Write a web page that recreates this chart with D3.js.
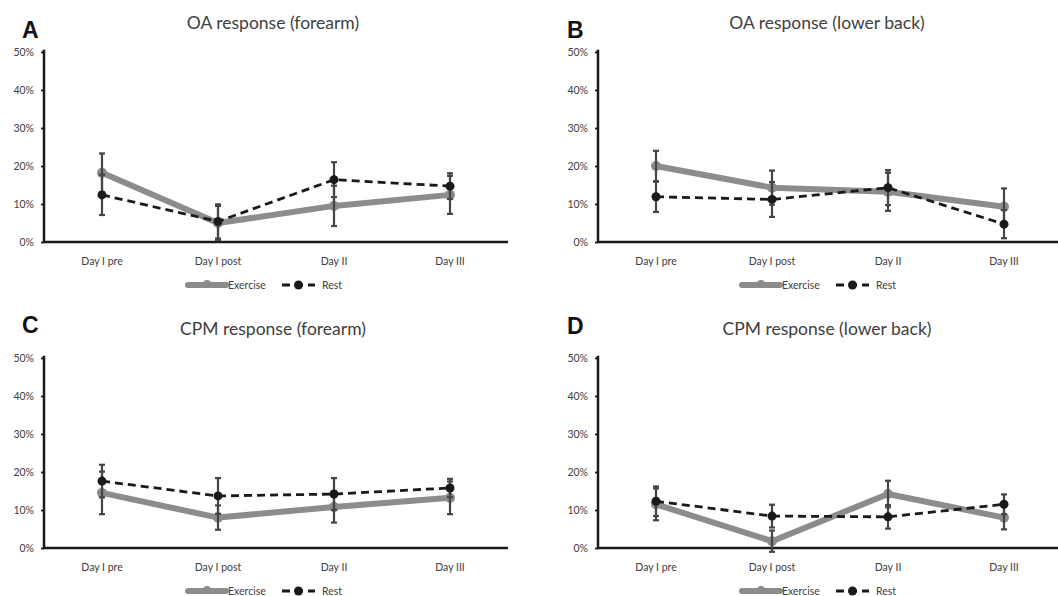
<!DOCTYPE html>
<html>
<head>
<meta charset="utf-8">
<script src="https://cdn.jsdelivr.net/npm/d3@7"></script>
<style>
html,body{margin:0;padding:0;background:#fff;}
svg{display:block;}
</style>
</head>
<body>
<svg id="chart" width="1058" height="596"></svg>
<script>
const categories = ["Day I pre", "Day I post", "Day II", "Day III"];
const yTicks = [0, 10, 20, 30, 40, 50];
const seriesNames = ["Exercise", "Rest"];
const panelLetters = ["A", "B", "C", "D"];
const panelTitles = ["OA response (forearm)", "OA response (lower back)", "CPM response (forearm)", "CPM response (lower back)"];

// values in percent
const exerciseA = [18.2, 5.0, 9.5, 12.4];
const exerciseErrA = [5.1, 4.5, 5.3, 5.0];
const restA = [12.4, 5.4, 16.4, 14.7];
const restErrA = [5.3, 4.5, 4.6, 3.4];

const exerciseB = [20.0, 14.3, 13.2, 9.3];
const exerciseErrB = [4.0, 4.5, 5.0, 4.8];
const restB = [11.9, 11.2, 14.3, 4.7];
const restErrB = [4.0, 4.6, 4.6, 3.7];

const exerciseC = [14.5, 8.0, 10.8, 13.2];
const exerciseErrC = [5.6, 3.2, 4.1, 4.3];
const restC = [17.6, 13.7, 14.2, 15.8];
const restErrC = [4.3, 4.7, 4.2, 2.4];

const exerciseD = [11.5, 1.8, 14.2, 8.0];
const exerciseErrD = [4.2, 2.8, 3.5, 3.1];
const restD = [12.3, 8.4, 8.2, 11.5];
const restErrD = [3.9, 3.0, 3.1, 2.6];

const panels = [
  {ex: exerciseA, exErr: exerciseErrA, rest: restA, restErr: restErrA, ox: 0, oy: 0, ly: 38, lx: 22},
  {ex: exerciseB, exErr: exerciseErrB, rest: restB, restErr: restErrB, ox: 554, oy: 0, ly: 38, lx: 567},
  {ex: exerciseC, exErr: exerciseErrC, rest: restC, restErr: restErrC, ox: 0, oy: 306, ly: 333, lx: 22},
  {ex: exerciseD, exErr: exerciseErrD, rest: restD, restErr: restErrD, ox: 554, oy: 306, ly: 334, lx: 567}
];

const svg = d3.select("#chart");
const FONT = "Lato, 'Open Sans', sans-serif";
const EX_COLOR = "#8c8c8c";
const REST_COLOR = "#1a1a1a";
const ERR_COLOR = "#454545";
const TEXT_COLOR = "#404040";

panels.forEach((p, i) => {
  const g = svg.append("g").attr("transform", `translate(${p.ox},${p.oy})`);
  const x0 = 44, x1 = 508, yTop = 52, yBot = 242;
  const x = d3.scaleBand().domain(categories).range([x0, x1]);
  const y = d3.scaleLinear().domain([0, 50]).range([yBot, yTop]);
  const cx = c => x(c) + x.bandwidth() / 2;

  // letter
  svg.append("text").attr("x", p.lx).attr("y", p.ly)
    .attr("font-family", "'Liberation Sans', Arial, sans-serif").attr("font-weight", "bold")
    .attr("font-size", 23).attr("fill", "#111").text(panelLetters[i]);

  // title
  g.append("text").attr("x", 273)
    .attr("y", 29).attr("text-anchor", "middle")
    .attr("font-family", FONT).attr("font-size", 17.5).attr("fill", TEXT_COLOR)
    .text(panelTitles[i]);

  // y axis
  const yAxis = d3.axisLeft(y).tickValues(yTicks).tickSize(3).tickPadding(7).tickFormat(d => d + "%");
  const ya = g.append("g").attr("transform", `translate(${x0},0)`).call(yAxis);
  ya.select(".domain").attr("stroke", "#1a1a1a").attr("stroke-width", 2.5).attr("d", `M-1.5,${yTop - 1}H0V${yBot}`);
  ya.selectAll(".tick line").attr("stroke", "#1a1a1a").attr("stroke-width", 1.8);
  ya.selectAll(".tick text").attr("font-family", FONT).attr("font-size", 10.5).attr("fill", TEXT_COLOR);

  // x axis
  const xAxis = d3.axisBottom(x).tickSize(0).tickPadding(16);
  const xa = g.append("g").attr("transform", `translate(0,${yBot})`).call(xAxis);
  xa.select(".domain").attr("stroke", "#1a1a1a").attr("stroke-width", 2.5).attr("d", `M${x0 - 1},0H${x1}`);
  xa.selectAll(".tick text").attr("font-family", FONT).attr("font-size", 10.5).attr("fill", TEXT_COLOR);

  const exData = categories.map((c, k) => ({c, v: p.ex[k], e: p.exErr[k]}));
  const restData = categories.map((c, k) => ({c, v: p.rest[k], e: p.restErr[k]}));
  const line = d3.line().x(d => cx(d.c)).y(d => y(d.v));

  // exercise line
  g.append("path").datum(exData).attr("d", line).attr("fill", "none")
    .attr("stroke", EX_COLOR).attr("stroke-width", 6).attr("stroke-linejoin", "round");
  g.selectAll(".exdot").data(exData).enter().append("circle")
    .attr("cx", d => cx(d.c)).attr("cy", d => y(d.v)).attr("r", 5).attr("fill", EX_COLOR);

  // error bars
  [exData, restData].forEach(ds => {
    const eb = g.append("g");
    ds.forEach(d => {
      const xx = cx(d.c);
      eb.append("line").attr("x1", xx).attr("x2", xx)
        .attr("y1", y(d.v - d.e)).attr("y2", y(d.v + d.e))
        .attr("stroke", ERR_COLOR).attr("stroke-width", 2.2);
      [d.v - d.e, d.v + d.e].forEach(val => {
        eb.append("line").attr("x1", xx - 3).attr("x2", xx + 3)
          .attr("y1", y(val)).attr("y2", y(val))
          .attr("stroke", ERR_COLOR).attr("stroke-width", 2.2);
      });
    });
  });

  // rest line
  g.append("path").datum(restData).attr("d", line).attr("fill", "none")
    .attr("stroke", REST_COLOR).attr("stroke-width", 2.8).attr("stroke-dasharray", "8,5");
  g.selectAll(".restdot").data(restData).enter().append("circle")
    .attr("cx", d => cx(d.c)).attr("cy", d => y(d.v)).attr("r", 4.5).attr("fill", REST_COLOR);

  // legend
  const lg = g.append("g").attr("transform", "translate(0,285)");
  lg.append("line").attr("x1", 188).attr("x2", 226).attr("y1", 0).attr("y2", 0)
    .attr("stroke", EX_COLOR).attr("stroke-width", 6).attr("stroke-linecap", "round");
  lg.append("circle").attr("cx", 207).attr("cy", -1).attr("r", 4).attr("fill", EX_COLOR);
  lg.append("text").attr("x", 228).attr("y", 3.5).attr("font-family", FONT).attr("font-size", 10.5)
    .attr("fill", TEXT_COLOR).text(seriesNames[0]);
  lg.append("line").attr("x1", 282).attr("x2", 315).attr("y1", 0).attr("y2", 0)
    .attr("stroke", REST_COLOR).attr("stroke-width", 2.8).attr("stroke-dasharray", "8,5");
  lg.append("circle").attr("cx", 298.5).attr("cy", 0).attr("r", 4.5).attr("fill", REST_COLOR);
  lg.append("text").attr("x", 322).attr("y", 3.5).attr("font-family", FONT).attr("font-size", 10.5)
    .attr("fill", TEXT_COLOR).text(seriesNames[1]);
});
</script>
</body>
</html>
